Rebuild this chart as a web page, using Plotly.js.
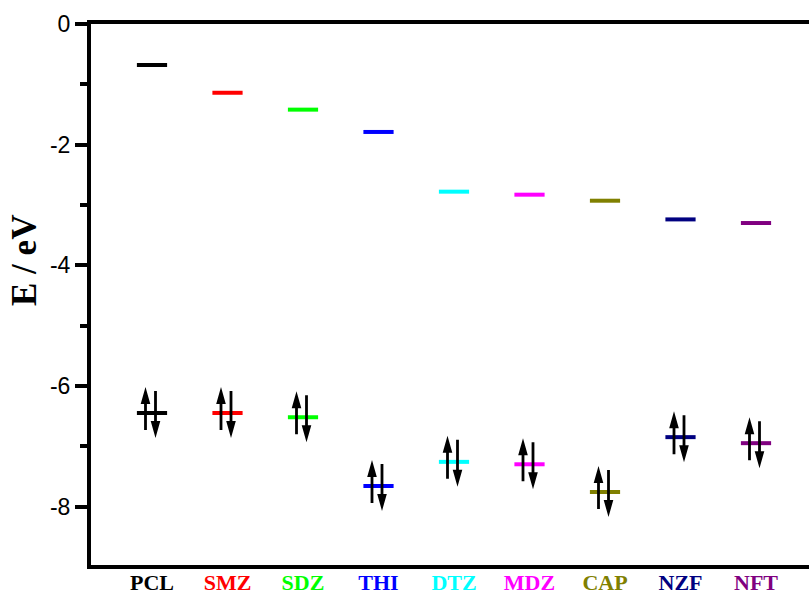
<!DOCTYPE html>
<html>
<head>
<meta charset="utf-8">
<script src="https://cdn.plot.ly/plotly-3.0.1.min.js"></script>
<style>
  html, body { margin: 0; padding: 0; background: #fff; }
  #chart { width: 809px; height: 594px; }
</style>
</head>
<body>
<div id="chart"></div>
<script>
// Frontier orbital energies (eV) of the drug molecules
const molecules = ['PCL', 'SMZ', 'SDZ', 'THI', 'DTZ', 'MDZ', 'CAP', 'NZF', 'NFT'];
const lumo = [-0.68, -1.14, -1.42, -1.79, -2.78, -2.83, -2.93, -3.24, -3.30];
const homo = [-6.45, -6.45, -6.52, -7.66, -7.26, -7.30, -7.76, -6.85, -6.95];
const levelColors = ['#000000', '#FF0000', '#00FF00', '#0000FF', '#00FFFF',
                     '#FF00FF', '#808000', '#000080', '#800080'];
const yTicks = [0, -2, -4, -6, -8];

const halfLen = 0.2;          // half length of an energy level bar, in category units
const positions = molecules.map((_, i) => i + 1);

// one trace per molecule: LUMO bar and HOMO bar
const traces = molecules.map((name, i) => {
  const x0 = positions[i] - halfLen, x1 = positions[i] + halfLen;
  return {
    type: 'scatter',
    mode: 'lines',
    name: name,
    x: [x0, x1, null, x0, x1],
    y: [lumo[i], lumo[i], null, homo[i], homo[i]],
    line: { color: levelColors[i], width: 4 },
    hoverinfo: 'skip',
    showlegend: false
  };
});

// paired electron arrows on each HOMO, drawn as pixel-sized glyphs anchored to the level
function arrowPath(cx, tail, tip) {
  const dir = tip > tail ? 1 : -1;
  const shaftHalf = 1.4, headHalf = 4.8, headLen = 17;
  const neck = tip - dir * headLen;
  return 'M' + (cx - shaftHalf) + ',' + tail +
         ' L' + (cx + shaftHalf) + ',' + tail +
         ' L' + (cx + shaftHalf) + ',' + neck +
         ' L' + (cx + headHalf) + ',' + neck +
         ' L' + cx + ',' + tip +
         ' L' + (cx - headHalf) + ',' + neck +
         ' L' + (cx - shaftHalf) + ',' + neck + ' Z';
}
const upGlyph = arrowPath(-6.5, -17, 26);
const downGlyph = arrowPath(3.5, 22, -25);

const shapes = [];
molecules.forEach((_, i) => {
  [upGlyph, downGlyph].forEach(p => shapes.push({
    type: 'path',
    xref: 'x', yref: 'y',
    xsizemode: 'pixel', ysizemode: 'pixel',
    xanchor: positions[i], yanchor: homo[i],
    path: p,
    fillcolor: '#000000',
    line: { width: 0 },
    layer: 'above'
  }));
});

const tickText = molecules.map((m, i) =>
  '<span style="color:' + levelColors[i] + '">' + m + '</span>');

const layout = {
  width: 809,
  height: 594,
  paper_bgcolor: '#ffffff',
  plot_bgcolor: '#ffffff',
  margin: { l: 91, r: 0, t: 24, b: 29 },
  showlegend: false,
  xaxis: {
    range: [0.192, 9.702],
    tickmode: 'array',
    tickvals: positions,
    ticktext: tickText,
    ticks: '',
    ticklabelstandoff: -5,
    showgrid: false,
    zeroline: false,
    showline: true,
    linecolor: '#000000',
    linewidth: 4,
    mirror: true,
    tickfont: { family: 'Liberation Serif, Times New Roman, serif', size: 22, weight: 'bold' },
    fixedrange: true
  },
  yaxis: {
    range: [-8.97, 0],
    tickmode: 'array',
    tickvals: yTicks,
    ticktext: yTicks.map(String),
    ticks: 'outside',
    ticklen: 12,
    tickwidth: 4,
    tickcolor: '#000000',
    minor: { dtick: 1, tick0: 0, ticks: 'outside', ticklen: 7, tickwidth: 4, tickcolor: '#000000' },
    showgrid: false,
    zeroline: false,
    showline: true,
    linecolor: '#000000',
    linewidth: 4,
    mirror: false,
    tickfont: { family: 'Liberation Sans, Arial, sans-serif', size: 23, color: '#000000' },
    fixedrange: true
  },
  // axis title placed beside the upper half of the energy axis
  annotations: [{
    text: 'E / eV',
    xref: 'paper', yref: 'paper',
    x: -0.0919, y: 0.562,
    xanchor: 'center', yanchor: 'middle',
    textangle: -90,
    showarrow: false,
    font: { family: 'Liberation Serif, Times New Roman, serif', size: 35, weight: 'bold', color: '#000000' }
  }],
  shapes: shapes
};

Plotly.newPlot('chart', traces, layout, { displayModeBar: false, staticPlot: true });
</script>
</body>
</html>
